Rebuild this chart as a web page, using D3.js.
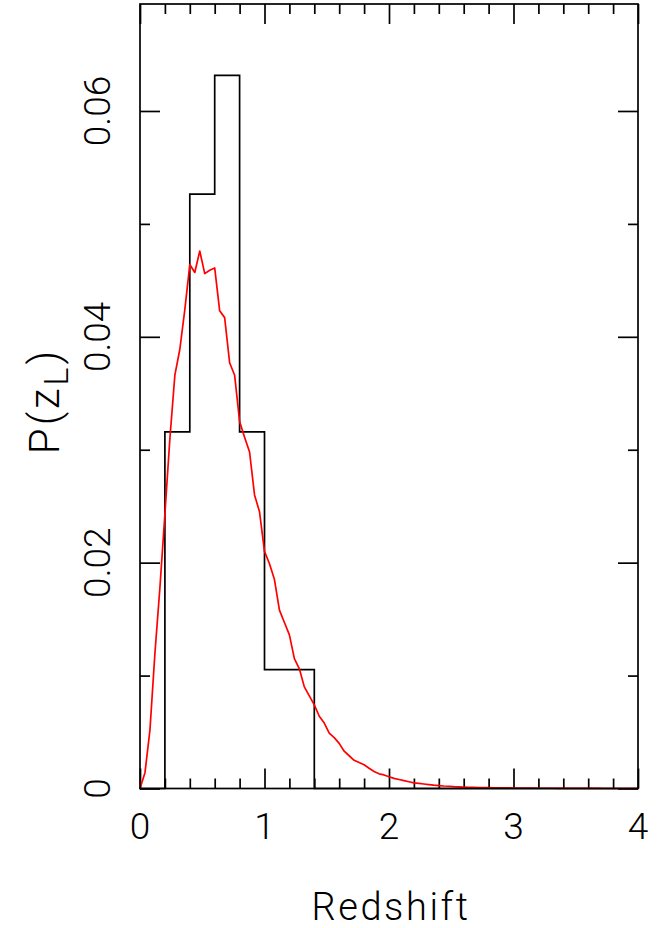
<!DOCTYPE html>
<html>
<head>
<meta charset="utf-8">
<script src="https://cdn.jsdelivr.net/npm/d3@7/dist/d3.min.js"></script>
<style>
  html, body { margin: 0; padding: 0; background: #fff; }
  svg { display: block; }
  text { font-family: Roboto, "DejaVu Sans", sans-serif; font-weight: 300; fill: #000; }
</style>
</head>
<body>
<svg id="chart" width="663" height="928"></svg>
<script>
// ---------------- data ----------------
const binEdges = [0,0.2,0.4,0.6,0.8,1.0,1.2,1.4,1.6,1.8,2.0,2.2,2.4,2.6,2.8,3.0,3.2,3.4,3.6,3.8,4.0];
const histValues = [0, 0.031579, 0.052632, 0.063158, 0.031579, 0.010526, 0.010526, 0, 0, 0,
                    0, 0, 0, 0, 0, 0, 0, 0, 0, 0];

const curveZ = [0.00,0.04,0.08,0.12,0.16,0.20,0.24,0.28,0.32,0.36,
                0.40,0.44,0.48,0.52,0.56,0.60,0.64,0.68,0.72,0.76,
                0.80,0.84,0.88,0.92,0.96,1.00,1.04,1.08,1.12,1.16,
                1.20,1.24,1.28,1.32,1.36,1.40,1.44,1.48,1.52,1.56,
                1.60,1.64,1.68,1.72,1.76,1.80,1.84,1.88,1.92,1.96,
                2.00,2.04,2.08,2.12,2.16,2.20,2.24,2.28,2.32,2.36,
                2.40,2.44,2.48,2.52,2.56,2.60,2.64,2.68,2.72,2.76,
                2.80,2.84,2.88,2.92,2.96,3.00,3.04,3.08,3.12,3.16,
                3.20,3.24,3.28,3.32,3.36,3.40,3.44,3.48,3.52,3.56,
                3.60,3.64,3.68,3.72,3.76,3.80,3.84,3.88,3.92,3.96,4.00];
const curveP = [0, 0.0014, 0.0052, 0.0120, 0.0178, 0.0243, 0.0310, 0.0366, 0.0389, 0.0424,
                0.0464, 0.0457, 0.0476, 0.0456, 0.0459, 0.0461, 0.0423, 0.0417, 0.0377, 0.0366,
                0.0325, 0.0311, 0.0298, 0.0260, 0.0245, 0.0210, 0.0199, 0.0185, 0.0158, 0.0147,
                0.0136, 0.0115, 0.0106, 0.0090, 0.0082, 0.0074, 0.0064, 0.0058, 0.0049, 0.0045,
                0.0040, 0.0033, 0.0029, 0.0025, 0.0023, 0.0021, 0.0018, 0.0015, 0.0013, 0.0012,
                0.00104, 0.0009, 0.0008, 0.0007, 0.0006, 0.0005, 0.00045, 0.0004, 0.00035, 0.0003,
                0.00026, 0.00022, 0.0002, 0.00017, 0.00015, 0.00013, 0.00011, 0.0001, 0.00009, 0.00008,
                0.00007, 0.00006, 0.00006, 0.00005, 0.00005, 0.00004, 0.00004, 0.00003, 0.00003, 0.00003,
                0.00002, 0.00002, 0.00002, 0.00002, 0.00001, 0.00001, 0.00001, 0.00001, 0.00001, 0.00001,
                0.00001, 0.00001, 0.00001, 0, 0, 0, 0, 0, 0, 0, 0];

const xMajorTicks = [0, 1, 2, 3, 4];
const xTickLabels = ["0", "1", "2", "3", "4"];
const xMinorTicks = [0.2,0.4,0.6,0.8,1.2,1.4,1.6,1.8,2.2,2.4,2.6,2.8,3.2,3.4,3.6,3.8];
const yMajorTicks = [0, 0.02, 0.04, 0.06];
const yTickLabels = ["0", "0.02", "0.04", "0.06"];
const yMinorTicks = [0.01, 0.03, 0.05];
const yMax = d3.max(histValues) * 1.1;

// ---------------- layout ----------------
const pL = 140, pR = 638, pT = 4, pB = 788.5;
const svg = d3.select("#chart");

const x = d3.scaleLinear().domain([0, 4]).range([pL, pR]);
const y = d3.scaleLinear().domain([0, yMax]).range([pB, pT]);

const majorLen = 20, minorLen = 10, sw = 1.7;

function tickAxis(gen, transform) {
  const g = svg.append("g").attr("transform", transform).call(gen);
  g.select(".domain").remove();
  g.selectAll("text").remove();
  g.selectAll("line").attr("stroke", "#000").attr("stroke-width", sw);
  return g;
}
tickAxis(d3.axisBottom(x).tickValues(xMajorTicks).tickSize(-majorLen), `translate(0,${pB})`);
tickAxis(d3.axisBottom(x).tickValues(xMinorTicks).tickSize(-minorLen), `translate(0,${pB})`);
tickAxis(d3.axisTop(x).tickValues(xMajorTicks).tickSize(-majorLen), `translate(0,${pT})`);
tickAxis(d3.axisTop(x).tickValues(xMinorTicks).tickSize(-minorLen), `translate(0,${pT})`);
tickAxis(d3.axisLeft(y).tickValues(yMajorTicks).tickSize(-majorLen), `translate(${pL},0)`);
tickAxis(d3.axisLeft(y).tickValues(yMinorTicks).tickSize(-minorLen), `translate(${pL},0)`);
tickAxis(d3.axisRight(y).tickValues(yMajorTicks).tickSize(-majorLen), `translate(${pR},0)`);
tickAxis(d3.axisRight(y).tickValues(yMinorTicks).tickSize(-minorLen), `translate(${pR},0)`);

// histogram outline
const histPts = [[binEdges[0], 0]];
histValues.forEach((v, i) => { histPts.push([binEdges[i], v]); histPts.push([binEdges[i + 1], v]); });
histPts.push([binEdges[binEdges.length - 1], 0]);
svg.append("path")
  .attr("d", d3.line().x(d => x(d[0])).y(d => y(d[1]))(histPts))
  .attr("fill", "none").attr("stroke", "#000").attr("stroke-width", sw)
  .attr("stroke-linejoin", "miter");

// red model curve
svg.append("path")
  .attr("d", d3.line().x((d, i) => x(curveZ[i])).y(d => y(d))(curveP))
  .attr("fill", "none").attr("stroke", "#ff0000").attr("stroke-width", sw)
  .attr("stroke-linejoin", "round");

// frame
svg.append("rect")
  .attr("x", pL).attr("y", pT)
  .attr("width", pR - pL).attr("height", pB - pT)
  .attr("fill", "none").attr("stroke", "#000").attr("stroke-width", sw);

// tick labels
const fs = 37;
svg.append("g").selectAll("text").data(xMajorTicks).join("text")
  .attr("x", d => x(d)).attr("y", 839)
  .attr("text-anchor", "middle").attr("font-size", fs)
  .text((d, i) => xTickLabels[i]);

svg.append("g").selectAll("text").data(yMajorTicks).join("text")
  .attr("transform", d => `translate(110,${y(d)}) rotate(-90)`)
  .attr("text-anchor", "middle").attr("font-size", fs)
  .text((d, i) => yTickLabels[i]);

// axis titles
svg.append("text")
  .attr("x", (pL + pR) / 2 + 2).attr("y", 920)
  .attr("text-anchor", "middle").attr("font-size", 38)
  .attr("letter-spacing", 2.6)
  .text("Redshift");

const yt = svg.append("text")
  .attr("transform", `translate(59,401) rotate(-90)`)
  .attr("text-anchor", "middle").attr("font-size", 42)
  .attr("letter-spacing", 3);
yt.append("tspan").text("P(z");
yt.append("tspan").attr("dy", 9).attr("font-size", 34).text("L");
yt.append("tspan").attr("dy", -9).text(")");
</script>
</body>
</html>
